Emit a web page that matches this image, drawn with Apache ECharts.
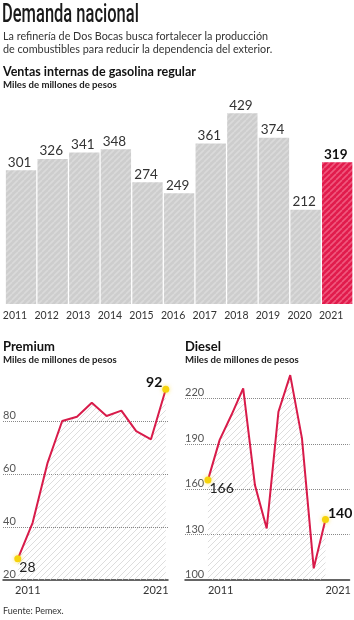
<!DOCTYPE html>
<html><head><meta charset="utf-8">
<script src="https://cdn.jsdelivr.net/npm/echarts@6/dist/echarts.min.js"></script>
<style>html,body{margin:0;padding:0;background:#fff}#c{width:354px;height:620px}</style>
</head><body><div id="c"></div>
<script>
const years = [2011,2012,2013,2014,2015,2016,2017,2018,2019,2020,2021];
const regular = [301,326,341,348,274,249,361,429,374,212,319];
const premium = [28,41.6,64,80,81.6,86.9,81.9,83.9,76.2,73.1,92];
const diesel = [166,192.6,209,226.6,162.7,134.1,211.2,235.4,193.6,107.7,140];

function hatch(bg, stripe, p, w){
  const c = document.createElement('canvas'); c.width = p; c.height = p;
  const g = c.getContext('2d');
  if (bg){ g.fillStyle = bg; g.fillRect(0,0,p,p); }
  g.strokeStyle = stripe; g.lineWidth = w;
  for (const o of [-p,0,p]){ g.beginPath(); g.moveTo(o,p); g.lineTo(o+p,0); g.stroke(); }
  return {image:c, repeat:'repeat'};
}
const grayHatch = hatch('#cdcdcd','#dadada',6,1.6);
const redHatch = hatch('#e11b4c','#ef587d',6,1.6);
const lineHatch = hatch(null,'#cfcfcf',6,1);
const RED = '#d81b4a', YEL = '#f6d30c', FONT = 'Lato';

const chart = echarts.init(document.getElementById('c'), null, {renderer:'canvas'});

function pointData(vals, firstLbl, lastLbl){
  return years.map((y,i)=>{
    const d = {value:[y, vals[i]]};
    if (i===0) d.label = firstLbl; else if (i===vals.length-1) d.label = lastLbl;
    return d;
  });
}
const baseLbl = {show:true, fontFamily:FONT, fontSize:14, color:'#222', distance:0};

chart.setOption({
  animation:false,
  graphic:[
    {type:'text', left:2, top:3, scaleX:0.66, style:{text:'Demanda nacional', font:'500 25px Roboto', fill:'#1a1a1a'}},
    {type:'text', left:3, top:29, scaleX:0.9, style:{text:'La refinería de Dos Bocas busca fortalecer la producción\nde combustibles para reducir la dependencia del exterior.', font:'12px Lato', lineHeight:13.5, fill:'#333'}},
    {type:'text', left:3, top:65, style:{text:'Ventas internas de gasolina regular', font:'bold 12.5px Lato', fill:'#111'}},
    {type:'text', left:3, top:80, style:{text:'Miles de millones de pesos', font:'bold 9.6px Lato', fill:'#222'}},
    {type:'text', left:3, top:340, style:{text:'Premium', font:'bold 13px Lato', fill:'#111'}},
    {type:'text', left:3, top:355, style:{text:'Miles de millones de pesos', font:'bold 9.6px Lato', fill:'#222'}},
    {type:'text', left:185, top:340, style:{text:'Diesel', font:'bold 13px Lato', fill:'#111'}},
    {type:'text', left:185, top:355, style:{text:'Miles de millones de pesos', font:'bold 9.6px Lato', fill:'#222'}},
    {type:'text', left:3, top:607, style:{text:'Fuente: Pemex.', font:'9px Lato', fill:'#333'}}
  ],
  grid:[
    {left:2, right:1, top:104, bottom:316},
    {left:3, right:186, top:368, bottom:40},
    {left:185, right:2, top:353, bottom:40}
  ],
  xAxis:[
    {gridIndex:0, type:'category', data:years.map(String), axisLine:{show:false}, axisTick:{show:false},
     axisLabel:{interval:0, margin:6, fontFamily:FONT, fontSize:10.5, color:'#333', padding:[0,12,0,0]}},
    {gridIndex:1, type:'value', min:2010, max:2021.15, splitLine:{show:false}, axisTick:{show:false},
     axisLine:{show:true, lineStyle:{color:'#333', width:1.5}},
     axisLabel:{customValues:[2011,2021], margin:5, fontFamily:FONT, fontSize:11, color:'#333',
       formatter:v=> v===2011 ? '{l|2011}' : '{r|2021}',
       rich:{l:{padding:[0,0,0,20], fontFamily:FONT, fontSize:11, color:'#333'}, r:{padding:[0,20,0,0], fontFamily:FONT, fontSize:11, color:'#333'}}}},
    {gridIndex:2, type:'value', min:2009.05, max:2023.05, splitLine:{show:false}, axisTick:{show:false},
     axisLine:{show:true, lineStyle:{color:'#333', width:1.5}},
     axisLabel:{customValues:[2011,2021], formatter:v=>String(v), margin:5, align:'left', fontFamily:FONT, fontSize:11, color:'#333'}}
  ],
  yAxis:[
    {gridIndex:0, type:'value', min:0, max:450, show:false},
    {gridIndex:1, type:'value', min:20, max:100, interval:20, axisLine:{show:false}, axisTick:{show:false},
     splitLine:{show:true, showMinLine:false, showMaxLine:false, lineStyle:{type:'dotted', color:'#888'}},
     axisLabel:{inside:true, margin:0, verticalAlign:'bottom', showMaxLabel:false, fontFamily:FONT, fontSize:11, color:'#555'}},
    {gridIndex:2, type:'value', min:100, max:250, interval:30, axisLine:{show:false}, axisTick:{show:false},
     splitLine:{show:true, showMinLine:false, showMaxLine:false, lineStyle:{type:'dotted', color:'#888'}},
     axisLabel:{inside:true, margin:0, verticalAlign:'bottom', showMaxLabel:false, fontFamily:FONT, fontSize:11, color:'#555'}}
  ],
  series:[
    {type:'bar', xAxisIndex:0, yAxisIndex:0, barCategoryGap:'4%',
     data:regular.map((v,i)=>({value:v,
       itemStyle:{color: i===regular.length-1 ? redHatch : grayHatch},
       label: i===regular.length-1 ? {fontWeight:'bold', color:'#111'} : undefined})),
     label:{show:true, position:[2,-1], align:'left', verticalAlign:'bottom', fontFamily:FONT, fontSize:13.5, color:'#333'}},
    {type:'line', xAxisIndex:1, yAxisIndex:1, symbol:'circle',
     symbolSize:(v,p)=> (p.dataIndex===0||p.dataIndex===years.length-1) ? 7 : 0,
     itemStyle:{color:YEL, shadowColor:'rgba(246,211,12,0.6)', shadowBlur:4},
     lineStyle:{color:RED, width:2}, areaStyle:{color:lineHatch, origin:'start'},
     label:{show:false},
     data:pointData(premium,
       Object.assign({}, baseLbl, {position:'right', offset:[-2,9], formatter:'28'}),
       Object.assign({}, baseLbl, {position:'left', offset:[0,-7], fontWeight:'bold', color:'#111', formatter:'92'}))},
    {type:'line', xAxisIndex:2, yAxisIndex:2, symbol:'circle',
     symbolSize:(v,p)=> (p.dataIndex===0||p.dataIndex===years.length-1) ? 7 : 0,
     itemStyle:{color:YEL, shadowColor:'rgba(246,211,12,0.6)', shadowBlur:4},
     lineStyle:{color:RED, width:2}, areaStyle:{color:lineHatch, origin:'start'},
     label:{show:false},
     data:pointData(diesel,
       Object.assign({}, baseLbl, {position:'right', offset:[-2,8], formatter:'166'}),
       Object.assign({}, baseLbl, {position:'right', offset:[-1,-6], fontWeight:'bold', color:'#111', formatter:'140'}))}
  ]
});
</script></body></html>
